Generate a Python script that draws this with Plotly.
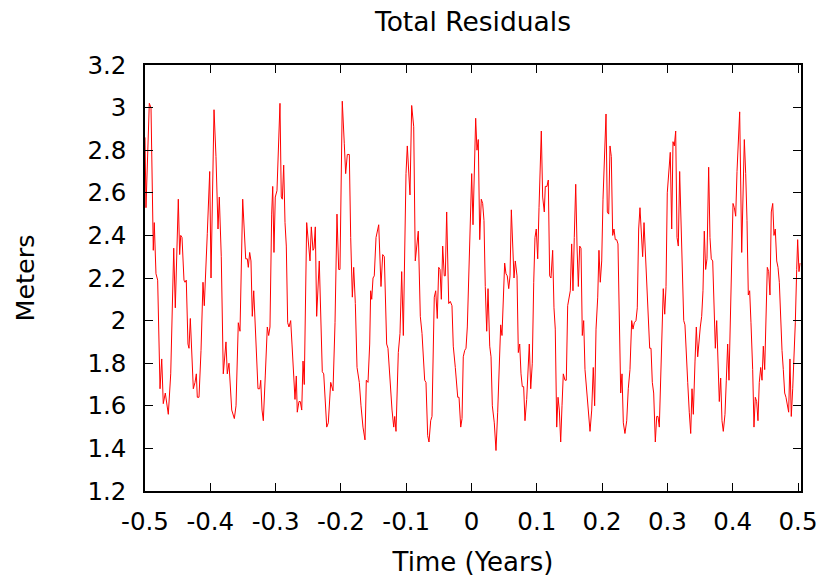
import plotly.graph_objects as go

time_years = [
    -0.5000, -0.4985, -0.4934, -0.4908, -0.4873, -0.4858, -0.4832, -0.4806, -0.4770, -0.4744,
    -0.4720, -0.4689, -0.4643, -0.4606, -0.4560, -0.4536, -0.4490, -0.4469, -0.4453, -0.4433,
    -0.4403, -0.4387, -0.4368, -0.4342, -0.4326, -0.4306, -0.4260, -0.4234, -0.4214, -0.4199,
    -0.4173, -0.4142, -0.4112, -0.4092, -0.4046, -0.4009, -0.3989, -0.3943, -0.3913, -0.3882,
    -0.3862, -0.3832, -0.3801, -0.3760, -0.3740, -0.3714, -0.3672, -0.3632, -0.3606, -0.3571,
    -0.3545, -0.3504, -0.3458, -0.3433, -0.3418, -0.3397, -0.3377, -0.3357, -0.3335, -0.3289,
    -0.3270, -0.3243, -0.3228, -0.3208, -0.3188, -0.3158, -0.3127, -0.3106, -0.3086, -0.3060,
    -0.3044, -0.3025, -0.3005, -0.2979, -0.2959, -0.2933, -0.2913, -0.2897, -0.2876, -0.2856,
    -0.2836, -0.2815, -0.2795, -0.2769, -0.2749, -0.2718, -0.2703, -0.2683, -0.2668, -0.2642,
    -0.2622, -0.2600, -0.2580, -0.2561, -0.2550, -0.2524, -0.2473, -0.2453, -0.2427, -0.2412,
    -0.2392, -0.2371, -0.2331, -0.2309, -0.2285, -0.2263, -0.2243, -0.2217, -0.2193, -0.2156,
    -0.2121, -0.2090, -0.2060, -0.2034, -0.2014, -0.1979, -0.1948, -0.1927, -0.1902, -0.1871,
    -0.1850, -0.1825, -0.1804, -0.1779, -0.1753, -0.1718, -0.1692, -0.1662, -0.1631, -0.1611,
    -0.1585, -0.1559, -0.1544, -0.1528, -0.1508, -0.1489, -0.1462, -0.1421, -0.1386, -0.1360,
    -0.1335, -0.1299, -0.1279, -0.1237, -0.1217, -0.1191, -0.1176, -0.1156, -0.1121, -0.1095,
    -0.1069, -0.1044, -0.1003, -0.0983, -0.0962, -0.0942, -0.0916, -0.0885, -0.0861, -0.0839,
    -0.0815, -0.0784, -0.0758, -0.0717, -0.0697, -0.0671, -0.0651, -0.0625, -0.0605, -0.0570,
    -0.0548, -0.0524, -0.0502, -0.0482, -0.0462, -0.0441, -0.0417, -0.0401, -0.0380, -0.0349,
    -0.0325, -0.0299, -0.0279, -0.0248, -0.0211, -0.0191, -0.0165, -0.0145, -0.0126, -0.0104,
    -0.0084, -0.0064, -0.0038, 0.0003, 0.0023, 0.0049, 0.0064, 0.0084, 0.0104, 0.0126,
    0.0150, 0.0171, 0.0191, 0.0211, 0.0233, 0.0253, 0.0279, 0.0299, 0.0319, 0.0349,
    0.0375, 0.0401, 0.0426, 0.0447, 0.0467, 0.0487, 0.0508, 0.0528, 0.0548, 0.0570,
    0.0590, 0.0610, 0.0631, 0.0651, 0.0671, 0.0697, 0.0717, 0.0738, 0.0758, 0.0778,
    0.0799, 0.0819, 0.0845, 0.0870, 0.0885, 0.0907, 0.0931, 0.0953, 0.0972, 0.0992,
    0.1014, 0.1034, 0.1049, 0.1069, 0.1090, 0.1115, 0.1130, 0.1156, 0.1176, 0.1197,
    0.1217, 0.1243, 0.1263, 0.1283, 0.1305, 0.1325, 0.1345, 0.1366, 0.1386, 0.1406,
    0.1432, 0.1452, 0.1473, 0.1493, 0.1513, 0.1534, 0.1554, 0.1574, 0.1596, 0.1616,
    0.1636, 0.1657, 0.1677, 0.1697, 0.1718, 0.1738, 0.1764, 0.1789, 0.1815, 0.1841,
    0.1865, 0.1886, 0.1907, 0.1933, 0.1952, 0.1972, 0.1994, 0.2014, 0.2040, 0.2060,
    0.2080, 0.2101, 0.2121, 0.2141, 0.2162, 0.2182, 0.2202, 0.2223, 0.2243, 0.2263,
    0.2285, 0.2305, 0.2325, 0.2350, 0.2377, 0.2401, 0.2427, 0.2453, 0.2473, 0.2493,
    0.2519, 0.2539, 0.2560, 0.2580, 0.2600, 0.2621, 0.2642, 0.2661, 0.2683, 0.2708,
    0.2729, 0.2749, 0.2769, 0.2790, 0.2815, 0.2836, 0.2856, 0.2876, 0.2897, 0.2917,
    0.2937, 0.2959, 0.2979, 0.2998, 0.3020, 0.3044, 0.3066, 0.3086, 0.3106, 0.3127,
    0.3147, 0.3167, 0.3188, 0.3208, 0.3228, 0.3250, 0.3269, 0.3289, 0.3311, 0.3335,
    0.3357, 0.3377, 0.3397, 0.3423, 0.3443, 0.3464, 0.3484, 0.3504, 0.3525, 0.3545,
    0.3565, 0.3586, 0.3606, 0.3632, 0.3652, 0.3672, 0.3694, 0.3714, 0.3734, 0.3755,
    0.3775, 0.3795, 0.3816, 0.3836, 0.3856, 0.3882, 0.3902, 0.3923, 0.3943, 0.3963,
    0.3985, 0.4005, 0.4025, 0.4046, 0.4066, 0.4086, 0.4107, 0.4138, 0.4158, 0.4178,
    0.4199, 0.4219, 0.4239, 0.4260, 0.4280, 0.4306, 0.4326, 0.4346, 0.4367, 0.4387,
    0.4407, 0.4429, 0.4449, 0.4469, 0.4490, 0.4510, 0.4530, 0.4551, 0.4571, 0.4591,
    0.4613, 0.4632, 0.4652, 0.4674, 0.4694, 0.4714, 0.4735, 0.4755, 0.4775, 0.4796,
    0.4816, 0.4836, 0.4857, 0.4877, 0.4897, 0.4919, 0.4939, 0.4959, 0.4980, 0.4995,
    0.5015, 0.5031,
]

residual_m = [
    2.86, 2.53, 3.02, 3.00, 2.33, 2.46, 2.22, 2.19, 1.68, 1.82,
    1.61, 1.66, 1.56, 1.75, 2.34, 2.06, 2.57, 2.31, 2.40, 2.39,
    2.19, 2.18, 2.19, 1.89, 1.87, 2.01, 1.68, 1.71, 1.75, 1.64,
    1.64, 1.86, 2.18, 2.07, 2.41, 2.70, 2.20, 2.99, 2.77, 2.43,
    2.58, 2.30, 1.75, 1.90, 1.75, 1.80, 1.58, 1.54, 1.60, 1.99,
    1.95, 2.57, 2.29, 2.29, 2.25, 2.32, 2.28, 2.02, 2.14, 1.75,
    1.68, 1.68, 1.72, 1.58, 1.53, 1.74, 1.97, 1.93, 1.97, 2.50,
    2.63, 2.32, 2.58, 2.61, 2.82, 3.02, 2.58, 2.57, 2.73, 2.46,
    2.35, 1.99, 1.97, 2.00, 1.89, 1.74, 1.63, 1.74, 1.57, 1.62,
    1.62, 1.58, 1.81, 1.70, 1.99, 2.46, 2.28, 2.44, 2.33, 2.34,
    2.44, 2.02, 2.28, 1.99, 1.76, 1.75, 1.61, 1.50, 1.52, 1.71,
    1.67, 1.99, 2.50, 2.24, 2.24, 3.03, 2.83, 2.69, 2.78, 2.78,
    2.39, 2.11, 2.25, 2.08, 1.78, 1.71, 1.60, 1.50, 1.44, 1.72,
    1.71, 1.89, 2.14, 2.10, 2.20, 2.21, 2.39, 2.45, 2.16, 2.31,
    2.30, 1.89, 1.87, 1.63, 1.58, 1.50, 1.55, 1.48, 1.85, 1.94,
    2.23, 1.93, 2.69, 2.82, 2.71, 2.59, 3.01, 2.91, 2.28, 2.36,
    2.42, 2.02, 1.94, 1.72, 1.71, 1.46, 1.43, 1.53, 1.55, 2.11,
    2.14, 2.01, 2.25, 2.24, 2.10, 2.35, 2.21, 2.21, 2.51, 2.08,
    2.09, 2.07, 1.88, 1.78, 1.64, 1.64, 1.50, 1.54, 1.83, 1.86,
    1.87, 1.97, 2.27, 2.69, 2.45, 2.75, 2.95, 2.80, 2.85, 2.38,
    2.57, 2.55, 2.47, 2.16, 1.95, 2.15, 1.88, 1.83, 1.60, 1.52,
    1.39, 1.57, 1.83, 1.98, 1.93, 2.14, 2.27, 2.22, 2.21, 2.15,
    2.21, 2.52, 2.36, 2.20, 2.28, 2.21, 1.85, 1.89, 1.75, 1.69,
    1.69, 1.53, 1.63, 1.78, 1.89, 1.68, 1.80, 2.18, 2.39, 2.43,
    2.29, 2.53, 2.75, 2.89, 2.58, 2.51, 2.63, 2.63, 2.66, 2.21,
    2.20, 2.33, 2.06, 1.96, 1.50, 1.64, 1.58, 1.43, 1.60, 1.75,
    1.72, 1.72, 2.07, 2.11, 2.14, 2.36, 2.14, 2.39, 2.64, 2.35,
    2.16, 2.35, 2.34, 1.93, 2.00, 1.77, 1.68, 1.58, 1.48, 1.58,
    1.78, 1.60, 1.96, 2.11, 2.33, 2.18, 2.28, 2.57, 2.81, 2.97,
    2.51, 2.50, 2.82, 2.77, 2.40, 2.43, 2.38, 2.38, 2.36, 2.07,
    1.66, 1.75, 1.52, 1.47, 1.53, 1.68, 1.77, 2.00, 1.96, 1.99,
    2.00, 2.06, 2.43, 2.53, 2.44, 2.30, 2.46, 2.33, 2.11, 2.00,
    1.87, 1.87, 1.71, 1.66, 1.43, 1.55, 1.55, 1.50, 1.72, 1.89,
    2.15, 2.03, 2.16, 2.60, 2.72, 2.79, 2.43, 2.84, 2.82, 2.89,
    2.39, 2.35, 2.70, 2.43, 2.21, 2.00, 1.98, 1.82, 1.71, 1.57,
    1.47, 1.68, 1.56, 1.81, 1.97, 1.83, 1.92, 1.97, 2.02, 2.14,
    2.42, 2.24, 2.29, 2.72, 2.39, 2.29, 2.28, 2.02, 1.87, 2.00,
    1.74, 1.62, 1.73, 1.53, 1.48, 1.56, 1.72, 1.89, 1.72, 1.99,
    2.22, 2.55, 2.53, 2.49, 2.70, 2.87, 2.98, 2.32, 2.64, 2.85,
    2.69, 2.47, 2.12, 2.14, 1.99, 1.77, 1.50, 1.64, 1.62, 1.53,
    1.71, 1.78, 1.72, 1.88, 1.77, 1.99, 2.25, 2.23, 2.12, 2.51,
    2.55, 2.40, 2.43, 2.28, 2.25, 2.18, 2.00, 1.86, 1.77, 1.66,
    1.64, 1.61, 1.57, 1.82, 1.55, 1.68, 1.81, 1.99, 2.24, 2.38,
    2.23, 2.27,
]

x_range = [-0.5, 0.5046]
y_range = [1.2, 3.2]
x_ticks = [-0.5, -0.4, -0.3, -0.2, -0.1, 0, 0.1, 0.2, 0.3, 0.4, 0.5]
x_tick_text = ["-0.5", "-0.4", "-0.3", "-0.2", "-0.1", "0", "0.1", "0.2", "0.3", "0.4", "0.5"]
y_ticks = [1.2, 1.4, 1.6, 1.8, 2.0, 2.2, 2.4, 2.6, 2.8, 3.0, 3.2]
y_tick_text = ["1.2", "1.4", "1.6", "1.8", "2", "2.2", "2.4", "2.6", "2.8", "3", "3.2"]

FONT = "DejaVu Sans, Liberation Sans, sans-serif"

fig = go.Figure()
fig.add_trace(go.Scatter(
    x=time_years, y=residual_m, mode="lines",
    line=dict(color="#ff0000", width=1),
    showlegend=False, hoverinfo="skip",
))

axis_common = dict(
    showgrid=False, zeroline=False, automargin=False,
    showline=True, linecolor="black", linewidth=1.5,
    mirror="ticks", ticks="inside", ticklen=8, tickwidth=1, tickcolor="black",
    tickfont=dict(family=FONT, size=24.5, color="black"),
)

fig.update_xaxes(
    range=x_range, tickmode="array", tickvals=x_ticks, ticktext=x_tick_text,
    title=dict(text="Time (Years)", font=dict(family=FONT, size=26, color="black"), standoff=18),
    ticklabelstandoff=8,
    **axis_common,
)
fig.update_yaxes(
    range=y_range, tickmode="array", tickvals=y_ticks, ticktext=y_tick_text,
    title=dict(text="Meters", font=dict(family=FONT, size=25.5, color="black"), standoff=45),
    ticklabelstandoff=12,
    **axis_common,
)

fig.update_layout(
    width=821, height=582,
    margin=dict(l=145, r=20, t=65, b=91, pad=0, autoexpand=False),
    paper_bgcolor="white", plot_bgcolor="white",
    title=dict(text="Total Residuals", x=0.5, xref="paper", xanchor="center",
               y=0.962, yref="container", yanchor="middle",
               font=dict(family=FONT, size=26.5, color="black")),
    font=dict(family=FONT, color="black"),
)

fig.write_html("out.html")
